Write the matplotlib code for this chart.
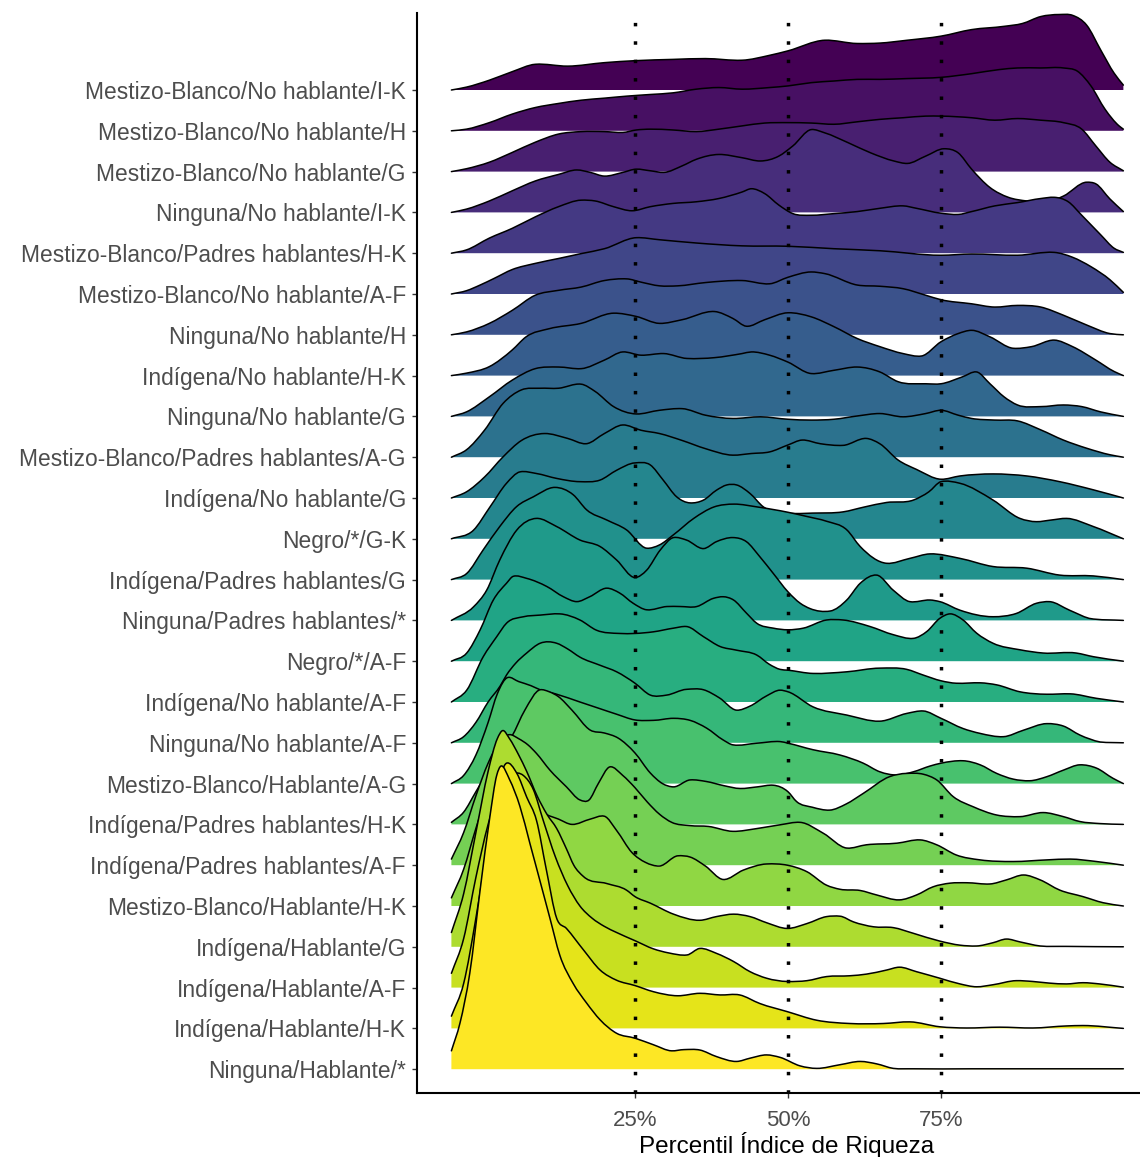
import numpy as np
import matplotlib
matplotlib.use("Agg")
import matplotlib.pyplot as plt
from matplotlib.path import Path
from matplotlib.patches import PathPatch

plt.rcParams['font.family'] = ['Liberation Sans', 'DejaVu Sans']

# ---------------- data (top ridge first) ----------------
CATEGORIES = [
    "Mestizo-Blanco/No hablante/I-K",
    "Mestizo-Blanco/No hablante/H",
    "Mestizo-Blanco/No hablante/G",
    "Ninguna/No hablante/I-K",
    "Mestizo-Blanco/Padres hablantes/H-K",
    "Mestizo-Blanco/No hablante/A-F",
    "Ninguna/No hablante/H",
    "Indígena/No hablante/H-K",
    "Ninguna/No hablante/G",
    "Mestizo-Blanco/Padres hablantes/A-G",
    "Indígena/No hablante/G",
    "Negro/*/G-K",
    "Indígena/Padres hablantes/G",
    "Ninguna/Padres hablantes/*",
    "Negro/*/A-F",
    "Indígena/No hablante/A-F",
    "Ninguna/No hablante/A-F",
    "Mestizo-Blanco/Hablante/A-G",
    "Indígena/Padres hablantes/H-K",
    "Indígena/Padres hablantes/A-F",
    "Mestizo-Blanco/Hablante/H-K",
    "Indígena/Hablante/G",
    "Indígena/Hablante/A-F",
    "Indígena/Hablante/H-K",
    "Ninguna/Hablante/*",
]

X_TICKS = [25, 50, 75]
X_TICK_LABELS = ["25%", "50%", "75%"]
X_LABEL = "Percentil Índice de Riqueza"

# percentile positions (x) and density heights (h, in ridge-spacing units) read per ridge
X00 = [-5, -2.55, 1.2, 4.95, 8.7, 14.0, 20.0, 25.2, 31.2, 36.5, 42.5, 47.0, 50.0, 56.0, 61.3, 65.0, 69.5, 75.0, 80.0, 85.3, 88.3, 91.3, 94.3, 96.5, 98.8, 101.1, 103.3, 104.8]
H00 = [0, 0.07, 0.24, 0.45, 0.63, 0.585, 0.67, 0.72, 0.75, 0.77, 0.73, 0.85, 0.96, 1.22, 1.14, 1.15, 1.22, 1.32, 1.48, 1.56, 1.63, 1.80, 1.85, 1.83, 1.59, 0.98, 0.41, 0.12]

X01 = [-5, -2.55, 1.2, 4.95, 8.7, 12.5, 16.2, 20.0, 23.7, 27.5, 31.2, 35.0, 38.7, 42.5, 47.0, 50.0, 53.8, 57.5, 61.3, 65.0, 69.5, 75.0, 80.0, 84.5, 87.5, 91.3, 95.0, 97.3, 99.5, 101.8, 104.1, 104.8]
H01 = [0, 0.04, 0.20, 0.41, 0.57, 0.67, 0.75, 0.80, 0.85, 0.89, 0.93, 1.02, 1.06, 1.02, 1.06, 1.10, 1.18, 1.22, 1.26, 1.26, 1.28, 1.31, 1.40, 1.50, 1.54, 1.54, 1.54, 1.46, 1.10, 0.53, 0.12, 0.04]

X02 = [-5, -2.55, 1.2, 4.95, 8.7, 12.5, 16.2, 20.0, 23.0, 25.2, 27.5, 31.2, 35.0, 38.7, 42.5, 46.2, 50.0, 53.8, 57.5, 61.3, 65.0, 68.8, 72.5, 75.0, 80.0, 83.8, 87.5, 91.3, 95.0, 98.0, 100.3, 102.6, 104.8]
H02 = [0, 0.07, 0.23, 0.47, 0.72, 0.92, 0.98, 0.98, 0.96, 1.02, 1.04, 1.02, 0.98, 1.04, 1.12, 1.19, 1.20, 1.19, 1.16, 1.22, 1.28, 1.32, 1.36, 1.36, 1.32, 1.26, 1.30, 1.26, 1.20, 1.04, 0.63, 0.23, 0.02]

X03 = [-5, -2.55, 1.2, 4.95, 8.7, 12.5, 15.5, 17.7, 20.0, 23.0, 25.2, 27.5, 29.7, 32.7, 35.0, 38.7, 42.5, 45.5, 48.5, 50.8, 53.8, 56.0, 59.8, 63.5, 67.3, 69.5, 72.5, 75.5, 77.8, 80.0, 83.0, 86.0, 89.0, 92.0, 95.0, 98.8, 100.3, 102.6, 104.8]
H03 = [0, 0.08, 0.28, 0.53, 0.77, 0.93, 1.04, 0.98, 0.89, 0.98, 1.06, 1.02, 0.98, 1.14, 1.30, 1.42, 1.34, 1.26, 1.38, 1.63, 2.03, 1.95, 1.71, 1.46, 1.26, 1.20, 1.38, 1.56, 1.46, 1.06, 0.61, 0.37, 0.28, 0.25, 0.40, 0.74, 0.70, 0.33, 0.02]

X04 = [-5, -2.55, 1.2, 4.95, 8.7, 12.5, 16.2, 18.5, 21.5, 24.5, 27.5, 31.2, 35.0, 38.7, 42.5, 44.0, 46.2, 48.5, 50.8, 53.8, 57.5, 61.3, 65.0, 68.8, 71.0, 75.0, 77.8, 80.0, 83.8, 87.5, 91.3, 93.5, 95.8, 98.0, 101.1, 103.3, 104.8]
H04 = [0, 0.08, 0.37, 0.61, 0.89, 1.14, 1.30, 1.28, 1.14, 1.04, 1.14, 1.22, 1.26, 1.34, 1.50, 1.58, 1.46, 1.18, 0.97, 0.93, 0.97, 1.02, 1.10, 1.16, 1.10, 0.98, 0.95, 1.02, 1.16, 1.24, 1.34, 1.37, 1.26, 0.93, 0.45, 0.12, 0.02]

X05 = [-5, -2.55, -0.3, 1.95, 4.95, 8.7, 12.5, 16.2, 20.0, 25.2, 29.0, 35.0, 42.5, 50.0, 57.5, 65.0, 75.0, 80.0, 87.5, 93.5, 96.5, 99.5, 102.6, 104.8]
H05 = [0, 0.08, 0.22, 0.38, 0.60, 0.75, 0.87, 0.99, 1.11, 1.38, 1.33, 1.25, 1.18, 1.17, 1.11, 1.06, 0.95, 0.98, 0.95, 1.02, 0.90, 0.67, 0.35, 0.04]

X06 = [-5, -2.55, 1.2, 4.95, 8.7, 12.5, 16.2, 20.0, 23.7, 26.0, 29.0, 32.0, 36.5, 42.5, 47.0, 50.0, 53.8, 56.0, 61.3, 65.0, 68.8, 72.5, 75.0, 80.0, 83.8, 87.5, 91.3, 95.0, 98.8, 102.6, 104.8]
H06 = [0, 0.07, 0.28, 0.60, 0.97, 1.09, 1.17, 1.33, 1.37, 1.29, 1.20, 1.20, 1.28, 1.33, 1.25, 1.41, 1.54, 1.50, 1.22, 1.19, 1.13, 0.97, 0.86, 0.76, 0.68, 0.72, 0.68, 0.48, 0.24, 0.03, 0]

X07 = [-5, -2.55, 1.2, 4.95, 7.2, 11.0, 16.2, 21.5, 25.2, 29.0, 32.7, 38.0, 41.0, 43.2, 46.2, 50.0, 53.8, 57.5, 61.3, 65.0, 68.8, 71.8, 75.0, 77.8, 80.0, 83.0, 86.8, 89.8, 93.5, 96.5, 100.3, 103.3, 104.8]
H07 = [0, 0.06, 0.22, 0.63, 0.95, 1.15, 1.28, 1.53, 1.45, 1.28, 1.37, 1.57, 1.40, 1.21, 1.37, 1.54, 1.44, 1.20, 0.91, 0.71, 0.54, 0.48, 0.83, 1.03, 1.11, 0.95, 0.67, 0.71, 0.87, 0.71, 0.38, 0.10, 0]

X08 = [-5, -2.55, 1.2, 4.95, 8.7, 12.5, 16.2, 20.0, 23.0, 26.0, 29.7, 33.5, 38.0, 42.5, 44.0, 47.0, 50.0, 53.8, 57.5, 61.3, 65.0, 68.0, 72.5, 75.0, 78.5, 80.8, 83.0, 85.3, 87.5, 91.3, 95.0, 98.0, 101.1, 104.8]
H08 = [0, 0.11, 0.48, 0.89, 1.17, 1.21, 1.17, 1.38, 1.58, 1.50, 1.54, 1.42, 1.44, 1.54, 1.58, 1.50, 1.33, 1.05, 1.13, 1.21, 1.09, 0.85, 0.80, 0.80, 0.97, 1.09, 0.80, 0.48, 0.28, 0.24, 0.28, 0.24, 0.11, 0]

X09 = [-5, -2.55, 0.45, 3.45, 6.45, 9.5, 12.5, 16.2, 18.5, 21.5, 25.2, 29.0, 32.7, 36.5, 41.0, 45.5, 50.0, 53.8, 57.5, 61.3, 65.0, 68.8, 72.5, 75.0, 77.8, 80.0, 83.8, 87.5, 91.3, 95.0, 98.8, 102.6, 104.8]
H09 = [0, 0.18, 0.67, 1.32, 1.65, 1.69, 1.69, 1.79, 1.61, 1.24, 1.06, 1.15, 1.19, 1.03, 0.95, 0.99, 0.93, 0.91, 0.93, 1.01, 1.07, 0.99, 1.07, 1.15, 1.03, 0.95, 0.91, 0.89, 0.67, 0.42, 0.22, 0.06, 0]

X10 = [-5, -2.55, 0.45, 3.45, 6.45, 10.2, 14.0, 17.0, 20.0, 23.0, 26.0, 29.0, 32.7, 36.5, 41.0, 44.0, 47.0, 50.0, 52.3, 55.3, 59.0, 62.8, 65.0, 68.0, 71.0, 75.0, 78.1, 83.5, 89.0, 94.4, 99.9, 104.8]
H10 = [0, 0.15, 0.52, 1.01, 1.41, 1.58, 1.46, 1.33, 1.58, 1.79, 1.66, 1.58, 1.41, 1.21, 1.05, 1.09, 1.13, 1.30, 1.42, 1.33, 1.29, 1.46, 1.33, 0.93, 0.70, 0.46, 0.54, 0.59, 0.54, 0.40, 0.20, 0]

X11 = [-5, -1.4, 1.3, 4.0, 6.2, 8.9, 12.2, 16.0, 19.3, 22.0, 25.0, 27.5, 29.6, 31.8, 34.0, 36.2, 38.3, 40.0, 41.6, 43.8, 46.0, 47.6, 50.0, 54.0, 59.0, 62.5, 66.1, 70.5, 73.0, 75.0, 78.1, 83.5, 87.9, 90.6, 93.0, 95.5, 99.9, 104.8]
H11 = [0, 0.21, 0.78, 1.36, 1.64, 1.60, 1.48, 1.40, 1.44, 1.68, 1.86, 1.81, 1.44, 1.03, 0.88, 0.95, 1.19, 1.32, 1.32, 1.11, 0.78, 0.66, 0.62, 0.63, 0.66, 0.78, 0.89, 0.95, 1.15, 1.40, 1.36, 0.95, 0.50, 0.42, 0.46, 0.50, 0.30, 0]

X12 = [-5, -2.5, 0.2, 2.9, 5.66, 8.4, 11.9, 14.9, 17.1, 20.4, 23.6, 26.9, 29.0, 31.3, 34.6, 37.9, 41.2, 45.0, 50.0, 53.0, 56.3, 59.6, 61.8, 66.1, 69.9, 73.2, 78.1, 83.5, 89.0, 94.4, 99.9, 104.8]
H12 = [0, 0.15, 0.73, 1.30, 1.79, 2.03, 2.26, 2.08, 1.71, 1.46, 1.22, 0.77, 0.85, 1.10, 1.50, 1.78, 1.85, 1.78, 1.65, 1.55, 1.43, 1.22, 0.81, 0.40, 0.52, 0.63, 0.52, 0.32, 0.28, 0.11, 0.09, 0]

X13 = [-5, -1.4, 0.76, 2.9, 5.66, 8.9, 12.2, 16.0, 19.3, 22.0, 25.0, 26.9, 29.1, 31.3, 33.4, 36.2, 38.3, 41.0, 43.2, 45.4, 47.6, 50.0, 52.0, 53.6, 56.9, 59.6, 61.8, 64.5, 67.2, 69.9, 73.2, 74.8, 78.1, 83.5, 87.3, 90.6, 92.7, 96.0, 99.2, 104.8]
H13 = [0, 0.33, 0.74, 1.48, 2.21, 2.50, 2.30, 1.97, 1.81, 1.48, 1.05, 1.23, 1.72, 2.03, 1.97, 1.76, 1.93, 2.03, 1.93, 1.56, 1.15, 0.70, 0.42, 0.29, 0.23, 0.50, 0.91, 1.11, 0.74, 0.46, 0.50, 0.46, 0.25, 0.09, 0.17, 0.42, 0.46, 0.25, 0.05, 0]

X14 = [-5, -2.5, -0.3, 1.85, 4.0, 5.1, 7.3, 10.6, 13.3, 15.5, 17.6, 20.4, 22.5, 24.7, 26.9, 30.2, 32.4, 35.1, 37.8, 39.4, 41.1, 43.2, 44.9, 47.6, 50.0, 52.5, 56.3, 59.0, 63.4, 67.2, 70.5, 72.7, 74.8, 76.5, 78.6, 80.8, 83.5, 87.9, 91.7, 97.1, 99.9, 104.8]
H14 = [0, 0.20, 0.77, 1.50, 1.91, 2.08, 2.03, 1.83, 1.58, 1.46, 1.58, 1.79, 1.67, 1.42, 1.26, 1.34, 1.34, 1.34, 1.54, 1.58, 1.50, 1.18, 0.93, 0.81, 0.77, 0.81, 1.01, 1.01, 0.85, 0.65, 0.56, 0.73, 1.05, 1.16, 1.01, 0.69, 0.44, 0.28, 0.20, 0.20, 0.11, 0]

X15 = [-5, -2.5, 0.2, 2.4, 4.0, 6.8, 9.5, 12.7, 16.0, 18.7, 22.5, 25.0, 28.0, 31.3, 33.4, 36.2, 38.9, 41.6, 44.9, 47.0, 48.7, 50.0, 54.1, 59.6, 65.0, 69.4, 72.1, 75.0, 77.5, 81.4, 84.1, 87.9, 92.3, 96.1, 100.4, 104.8]
H15 = [0, 0.29, 1.11, 1.60, 1.93, 2.09, 2.13, 2.16, 2.01, 1.76, 1.68, 1.68, 1.72, 1.81, 1.85, 1.60, 1.36, 1.27, 1.15, 0.92, 0.80, 0.78, 0.70, 0.74, 0.83, 0.80, 0.66, 0.52, 0.46, 0.47, 0.42, 0.25, 0.19, 0.20, 0.09, 0]

X16 = [-5, -3, -1, 1, 3, 4.0, 5.5, 7.3, 9.5, 12.2, 14, 16, 19.3, 22, 25, 27.5, 30.2, 33.4, 36.2, 38.8, 41.6, 43.8, 46.5, 48.7, 50.0, 54.1, 59.6, 65.0, 69.4, 72.1, 75.0, 78.6, 81.4, 85.2, 88.5, 92.3, 95.0, 97.7, 101.0, 104.8]
H16 = [0, 0.15, 0.5, 1.0, 1.4, 1.66, 1.95, 2.2, 2.44, 2.44, 2.3, 2.1, 1.9, 1.74, 1.46, 1.17, 1.17, 1.31, 1.3, 1.1, 0.8, 0.9, 1.15, 1.29, 1.25, 0.88, 0.68, 0.53, 0.72, 0.78, 0.6, 0.35, 0.23, 0.15, 0.31, 0.47, 0.41, 0.19, 0.02, 0]

X17 = [-5, -3, -1, 1, 2.5, 4.2, 6, 8, 9.5, 12, 16, 19, 22, 25, 28, 31.3, 34, 36.7, 39.4, 41, 44.9, 48.7, 50, 54.1, 58.5, 62.3, 65, 67.8, 70.5, 73.2, 75, 78.6, 81.4, 84.1, 86.8, 89.5, 92.3, 95, 97.7, 100.4, 103.1, 104.8]
H17 = [0, 0.2, 0.7, 1.5, 2.2, 2.6, 2.5, 2.4, 2.3, 2.2, 2.0, 1.85, 1.7, 1.56, 1.55, 1.6, 1.55, 1.36, 1.07, 0.95, 0.99, 1.03, 0.99, 0.83, 0.7, 0.5, 0.29, 0.21, 0.29, 0.43, 0.5, 0.56, 0.46, 0.25, 0.11, 0.07, 0.17, 0.33, 0.46, 0.38, 0.13, 0]

X18 = [-5, -3, -1, 1, 3, 4.85, 7, 9.5, 11, 12.5, 14.7, 17.7, 20, 22.2, 25, 27.5, 29.5, 31.3, 34, 36.7, 39.5, 42.2, 45, 47.6, 50, 51.4, 54, 56.8, 59.5, 62.3, 66.6, 69.4, 72.1, 74.3, 77, 80.3, 84.1, 87.9, 91.7, 95, 97.7, 101, 104.8]
H18 = [0.05, 0.3, 0.8, 1.3, 1.75, 2.15, 2.8, 3.3, 3.25, 3.13, 2.8, 2.31, 2.24, 2.12, 1.75, 1.26, 1.0, 0.92, 1.09, 1.05, 0.95, 0.88, 0.92, 0.96, 0.8, 0.56, 0.42, 0.35, 0.5, 0.76, 1.17, 1.25, 1.23, 1.09, 0.68, 0.43, 0.23, 0.19, 0.29, 0.19, 0.07, 0.02, 0]

X19 = [-5, -3, -1, 1, 3, 4.5, 6, 7.5, 8.9, 11.1, 13.8, 16, 17.5, 19, 20.9, 23, 25, 27, 29, 31, 34, 37, 41, 45, 48.7, 52, 55.8, 59.6, 62.8, 67.8, 71.6, 74.3, 77.5, 81.4, 86.8, 92.3, 96.1, 100.4, 104.8]
H19 = [0.15, 0.8, 1.7, 2.5, 3.05, 3.2, 3.1, 2.95, 2.74, 2.33, 1.92, 1.6, 1.6, 2.0, 2.41, 2.2, 1.9, 1.55, 1.25, 1.05, 0.97, 0.95, 0.83, 0.9, 0.99, 1.05, 0.78, 0.42, 0.5, 0.54, 0.62, 0.5, 0.25, 0.13, 0.09, 0.13, 0.15, 0.09, 0]

X20 = [-5, -3, -1, 1, 3, 4.5, 6, 8, 10, 12.5, 14.7, 17.7, 20, 22, 24.5, 26.7, 29, 32, 34, 36.5, 39.4, 42.7, 46.5, 49.9, 53.1, 56.3, 58.5, 61.8, 64.5, 68.2, 71, 73.7, 76.5, 79.2, 83, 85.7, 88.5, 91.2, 94.4, 98.2, 101.5, 104.8]
H20 = [0.2, 0.9, 1.9, 2.8, 3.3, 3.4, 3.1, 2.65, 2.3, 2.13, 2.0, 2.13, 2.2, 1.85, 1.31, 1.07, 0.98, 1.23, 1.2, 0.98, 0.65, 0.88, 1.03, 1.0, 0.84, 0.51, 0.41, 0.38, 0.27, 0.15, 0.27, 0.47, 0.56, 0.57, 0.54, 0.64, 0.76, 0.64, 0.39, 0.23, 0.08, 0]

X21 = [-5, -3, -1, 1, 2.5, 3.4, 4.5, 6, 7.3, 9, 10.6, 12.2, 13.8, 15, 16.6, 20.4, 23.6, 25, 27.5, 31.3, 35.6, 38.3, 41.1, 43.8, 46.5, 49.9, 53.1, 56.3, 58.5, 60.7, 64, 67.2, 70.5, 74.8, 78.1, 80.8, 83.5, 85.7, 87.9, 91.2, 95.5, 104.8]
H21 = [0.35, 1.3, 2.8, 4.3, 5.1, 5.3, 5.1, 4.7, 4.3, 3.7, 3.25, 2.9, 2.4, 2.0, 1.72, 1.55, 1.39, 1.23, 1.07, 0.8, 0.65, 0.74, 0.8, 0.74, 0.59, 0.45, 0.57, 0.74, 0.75, 0.61, 0.49, 0.47, 0.33, 0.14, 0.04, 0.02, 0.1, 0.19, 0.12, 0.02, 0.01, 0]

X22 = [-5, -3, -1, 1, 3, 5, 6.75, 8.4, 10, 12, 14, 16, 18, 20, 22, 25, 28, 30.5, 33.5, 35.6, 38.3, 41.1, 43.8, 46.5, 49.9, 53.1, 56.3, 60.1, 62.8, 66.1, 68.2, 71, 74.8, 78.1, 80.8, 83.5, 87.3, 90, 92.7, 95.5, 98.2, 100.9, 104.8]
H22 = [0.35, 1.2, 2.7, 4.0, 4.9, 5.25, 5.2, 4.85, 4.1, 3.2, 2.5, 2.0, 1.7, 1.5, 1.35, 1.15, 0.95, 0.85, 0.8, 0.96, 0.84, 0.64, 0.39, 0.23, 0.15, 0.17, 0.27, 0.29, 0.33, 0.43, 0.5, 0.39, 0.23, 0.09, 0.02, 0.07, 0.17, 0.15, 0.11, 0.09, 0.12, 0.09, 0.01]

X23 = [-5, -3, -1, 1, 2.5, 4.0, 5.7, 7.3, 8.9, 10.5, 12.2, 13.8, 16.6, 19.3, 22, 25, 28, 32, 35.6, 38.9, 42.1, 45.4, 49.9, 54.7, 60.1, 65.6, 69.9, 74.8, 79.2, 84.6, 90, 95.5, 98.2, 104.8]
H23 = [0.3, 1.1, 2.7, 4.6, 5.9, 6.5, 6.25, 5.67, 5.1, 3.9, 2.7, 2.45, 1.92, 1.43, 1.18, 1.05, 0.9, 0.8, 0.86, 0.82, 0.82, 0.61, 0.41, 0.2, 0.12, 0.12, 0.16, 0.04, 0.01, 0.03, 0.01, 0.06, 0.07, 0]

X24 = [-5, -3.6, -2, -0.3, 1.3, 2.4, 3.1, 4.5, 6.2, 7.8, 9.5, 11.1, 12.7, 14.9, 17.1, 19.3, 22, 25, 28, 31, 33, 35.6, 38.3, 41.6, 43.8, 46.5, 48.7, 52, 54.7, 58.5, 61.8, 64.5, 67.2, 70.5, 80, 90, 104.8]
H24 = [0.45, 1.13, 2.35, 4.4, 6.2, 7.2, 7.43, 7.1, 6.44, 5.55, 4.6, 3.7, 2.8, 2.1, 1.62, 1.21, 0.88, 0.76, 0.6, 0.45, 0.48, 0.47, 0.31, 0.19, 0.27, 0.35, 0.29, 0.08, 0.02, 0.11, 0.19, 0.13, 0.02, 0.01, 0.01, 0.01, 0.01]

RIDGE_X = [X00, X01, X02, X03, X04, X05, X06, X07, X08, X09, X10, X11, X12,
           X13, X14, X15, X16, X17, X18, X19, X20, X21, X22, X23, X24]
RIDGE_H = [H00, H01, H02, H03, H04, H05, H06, H07, H08, H09, H10, H11, H12,
           H13, H14, H15, H16, H17, H18, H19, H20, H21, H22, H23, H24]


# ---------------- helpers ----------------
def smooth_slopes(x, y):
    """Centred (non-uniform) finite-difference tangents for a smooth Bezier outline."""
    x = np.asarray(x, float)
    y = np.asarray(y, float)
    h = np.diff(x)
    d = np.diff(y) / h
    m = np.zeros_like(y)
    for i in range(1, len(x) - 1):
        m[i] = (d[i - 1] * h[i] + d[i] * h[i - 1]) / (h[i - 1] + h[i])
        # soften overshoot at sharp extrema
        if d[i - 1] * d[i] < 0:
            m[i] *= 0.5
    m[0] = d[0]
    m[-1] = d[-1]
    return m


def curve_vertices(x, y, floor):
    m = smooth_slopes(x, y)
    verts, codes = [], []
    for i in range(len(x) - 1):
        dx = x[i + 1] - x[i]
        c1y = max(y[i] + m[i] * dx / 3, floor)
        c2y = max(y[i + 1] - m[i + 1] * dx / 3, floor)
        verts += [(x[i] + dx / 3, c1y), (x[i + 1] - dx / 3, c2y), (x[i + 1], y[i + 1])]
        codes += [Path.CURVE4] * 3
    return verts, codes


# ---------------- figure ----------------
W, H = 1140, 1157
fig = plt.figure(figsize=(W / 100, H / 100), dpi=100)
fig.patch.set_facecolor("white")

ax_left, ax_right = 417.3, 1158.0
ax_top, ax_bottom = 13.3, 1093.3
ax = fig.add_axes([ax_left / W, (H - ax_bottom) / H,
                   (ax_right - ax_left) / W, (ax_bottom - ax_top) / H])
ax.set_facecolor("white")

n = len(CATEGORIES)
colors = plt.cm.viridis(np.linspace(0, 1, n))

for k in range(n):
    base = (n - 1) - k
    xs = list(RIDGE_X[k])
    ys = [base + v for v in RIDGE_H[k]]
    cv, cc = curve_vertices(xs, ys, base)
    fill_verts = [(xs[0], base), (xs[0], ys[0])] + cv + [(xs[-1], base), (xs[0], base)]
    fill_codes = [Path.MOVETO, Path.LINETO] + cc + [Path.LINETO, Path.CLOSEPOLY]
    ax.add_patch(PathPatch(Path(fill_verts, fill_codes), facecolor=colors[k],
                           edgecolor="none", zorder=2 + 2 * k))
    line_verts = [(xs[0], ys[0])] + cv
    line_codes = [Path.MOVETO] + cc
    ax.add_patch(PathPatch(Path(line_verts, line_codes), facecolor="none",
                           edgecolor="black", lw=1.1, joinstyle="round",
                           capstyle="round", zorder=3 + 2 * k))

xl = (ax_left - 482.0) / 6.12
xr = (ax_right - 482.0) / 6.12
ax.set_xlim(xl, xr)
y_bottom = -(ax_bottom - 1069.2) / 40.8
y_top = (n - 1) + (90.0 - ax_top) / 40.8
ax.set_ylim(y_bottom, y_top)

for xv in X_TICKS:
    ax.plot([xv, xv], [y_top, y_bottom], color="black", lw=2.5,
            linestyle=(2.6, (1, 4.3)), zorder=200)

ax.set_xticks(X_TICKS)
ax.set_xticklabels(X_TICK_LABELS)
ax.set_yticks(range(n))
ax.set_yticklabels(CATEGORIES[::-1])

for side in ["top", "right"]:
    ax.spines[side].set_visible(False)
for side in ["left", "bottom"]:
    ax.spines[side].set_linewidth(1.5)
    ax.spines[side].set_color("black")
    ax.spines[side].set_zorder(300)

ax.tick_params(axis="y", length=3.4, width=1.0, color="#333333",
               labelsize=16.4, labelcolor="#4d4d4d", pad=4.8)
ax.tick_params(axis="x", length=3.4, width=1.0, color="#333333",
               labelsize=16, labelcolor="#4d4d4d", pad=8.5)

ax.set_xlabel(X_LABEL, fontsize=17.5, color="black")
ax.xaxis.set_label_coords((787 - ax_left) / (ax_right - ax_left),
                          -(1145 - ax_bottom) / (ax_bottom - ax_top))
ax.xaxis.label.set_va("center")

fig.savefig("out.png", dpi=100, facecolor="white")
